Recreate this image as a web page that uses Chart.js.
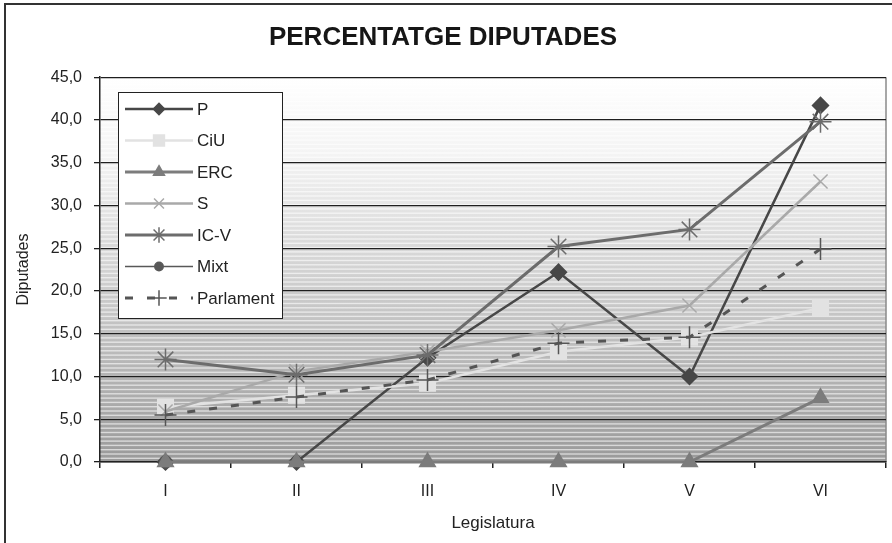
<!DOCTYPE html>
<html>
<head>
<meta charset="utf-8">
<title>Percentatge diputades</title>
<script src="https://cdn.jsdelivr.net/npm/chart.js@4/dist/chart.umd.min.js"></script>
<style>
  body { margin: 0; background: #fff; }
  #wrap { width: 892px; height: 543px; }
</style>
</head>
<body>
<div id="wrap"><canvas id="myChart"></canvas></div>
<script>
// legislatures on the x axis
var legislatures = ['I', 'II', 'III', 'IV', 'V', 'VI'];

// percentage of women deputies per group
var pValues = [0, 0, 12.2, 22.2, 10.0, 41.7];
var ciuValues = [6.4, 7.8, 9.2, 12.9, 14.6, 18.0];
var ercValues = [0, 0, 0, 0, 0, 7.5];
var sValues = [5.9, 10.6, 12.9, 15.4, 18.3, 32.8];
var icvValues = [12.0, 10.2, 12.5, 25.2, 27.2, 39.8];
var mixtValues = [0, null, null, null, null, null];
var parlamentValues = [5.5, 7.6, 9.6, 13.9, 14.6, 24.9];

var yTicks = [0, 5, 10, 15, 20, 25, 30, 35, 40, 45];

var FONT = '"Liberation Sans", Arial, sans-serif';

// striped grey background, outer frame
var backdrop = {
    id: 'backdrop',
    beforeDraw: function (chart) {
        var c = chart.ctx, a = chart.chartArea;
        c.save();
        c.fillStyle = '#fff';
        c.fillRect(0, 0, chart.width, chart.height);
        c.strokeStyle = '#333';
        c.lineWidth = 2;
        c.beginPath();
        c.moveTo(5, chart.height);
        c.lineTo(5, 4);
        c.lineTo(chart.width, 4);
        c.stroke();

        var g = c.createLinearGradient(0, a.top, 0, a.bottom);
        g.addColorStop(0, '#ffffff');
        g.addColorStop(0.2, '#f4f4f4');
        g.addColorStop(1, '#9a9a9a');
        c.fillStyle = g;
        c.fillRect(a.left, a.top, a.width, a.height);
        c.fillStyle = 'rgba(255,255,255,0.6)';
        for (var y = a.top + 2; y < a.bottom; y += 4.3) {
            c.fillRect(a.left, y, a.width, 1.4);
        }
        c.strokeStyle = '#8a8a8a';
        c.lineWidth = 1.5;
        c.beginPath();
        c.moveTo(a.right, a.top);
        c.lineTo(a.right, a.bottom);
        c.stroke();
        c.restore();
    }
};

// legend box sitting inside the plot
var legendBox = {
    id: 'legendBox',
    afterDraw: function (chart) {
        var c = chart.ctx;
        c.save();
        c.fillStyle = '#fff';
        c.fillRect(118, 92, 164, 226);
        c.strokeStyle = '#222';
        c.lineWidth = 1;
        c.strokeRect(118.5, 92.5, 164, 226);
        chart.data.datasets.forEach(function (ds, i) {
            var y = 109 + i * 31.5;
            c.strokeStyle = ds.borderColor;
            c.lineWidth = ds.borderWidth;
            c.setLineDash(ds.borderDash || []);
            c.beginPath();
            c.moveTo(125, y);
            c.lineTo(193, y);
            c.stroke();
            c.setLineDash([]);
            c.fillStyle = ds.pointBackgroundColor;
            c.strokeStyle = ds.pointBorderColor;
            c.lineWidth = ds.pointBorderWidth;
            Chart.helpers.drawPoint(c, {
                pointStyle: ds.pointStyle,
                radius: ds.pointRadius * 0.7,
                rotation: 0,
                borderWidth: ds.pointBorderWidth
            }, 159, y);
            c.fillStyle = '#222';
            c.font = '17px ' + FONT;
            c.textBaseline = 'middle';
            c.fillText(ds.label, 197, y + 1);
        });
        c.restore();
    }
};

function series(label, data, color, width, style, radius, order, extra) {
    var ds = {
        label: label,
        data: data,
        borderColor: color,
        borderWidth: width,
        pointStyle: style,
        pointRadius: radius,
        pointHoverRadius: radius,
        pointBackgroundColor: color,
        pointBorderColor: color,
        pointBorderWidth: 1.5,
        order: order,
        clip: false,
        spanGaps: false
    };
    for (var k in extra) ds[k] = extra[k];
    return ds;
}

var ctx = document.getElementById('myChart').getContext('2d');
var chart = new Chart(ctx, {
    type: 'line',
    data: {
        labels: legislatures,
        datasets: [
            series('P', pValues, '#474747', 2.5, 'rectRot', 8, 7),
            series('CiU', ciuValues, '#e2e2e2', 2.5, 'rect', 11, 5),
            series('ERC', ercValues, '#7c7c7c', 3, 'triangle', 9, 4),
            series('S', sValues, '#a9a9a9', 2.5, 'crossRot', 10, 3),
            series('IC-V', icvValues, '#6c6c6c', 3, 'star', 11, 2),
            series('Mixt', mixtValues, '#585858', 1.5, 'circle', 6, 6),
            series('Parlament', parlamentValues, '#555555', 3, 'cross', 11, 1, { borderDash: [8, 14] })
        ]
    },
    options: {
        responsive: true,
        maintainAspectRatio: false,
        animation: false,
        // markers may overflow the plot, no extra room for them
        layout: { autoPadding: false, padding: { left: 0, right: 6, top: 0, bottom: 0 } },
        plugins: {
            legend: { display: false },
            tooltip: { enabled: false },
            title: {
                display: true,
                text: 'PERCENTATGE DIPUTADES',
                color: '#161616',
                font: { family: FONT, size: 26, weight: 'bold' },
                padding: { top: 22, bottom: 24 }
            }
        },
        scales: {
            x: {
                offset: true,
                afterFit: function (s) { s.height = 81; },
                grid: { offset: true, drawOnChartArea: false, color: '#222', tickLength: 6, lineWidth: 1.5 },
                border: { color: '#222', width: 1.5 },
                ticks: { color: '#222', padding: 0, font: { family: FONT, size: 16, lineHeight: 2.9 } },
                title: {
                    display: true,
                    text: 'Legislatura',
                    color: '#222',
                    font: { family: FONT, size: 17 },
                    padding: { top: 0, bottom: 9 }
                }
            },
            y: {
                min: 0,
                max: 45,
                afterFit: function (s) { s.width = 100; },
                afterBuildTicks: function (s) {
                    s.ticks = yTicks.map(function (v) { return { value: v }; });
                },
                grid: { color: '#1e1e1e', tickLength: 6, lineWidth: 1.3 },
                border: { color: '#222', width: 1.5 },
                ticks: {
                    color: '#222',
                    padding: 12,
                    font: { family: FONT, size: 16 },
                    callback: function (v) { return v.toFixed(1).replace('.', ','); }
                },
                title: {
                    display: true,
                    text: 'Diputades',
                    color: '#222',
                    font: { family: FONT, size: 16 },
                    padding: { top: 14, bottom: 0 }
                }
            }
        }
    },
    plugins: [backdrop, legendBox]
});
</script>
</body>
</html>
